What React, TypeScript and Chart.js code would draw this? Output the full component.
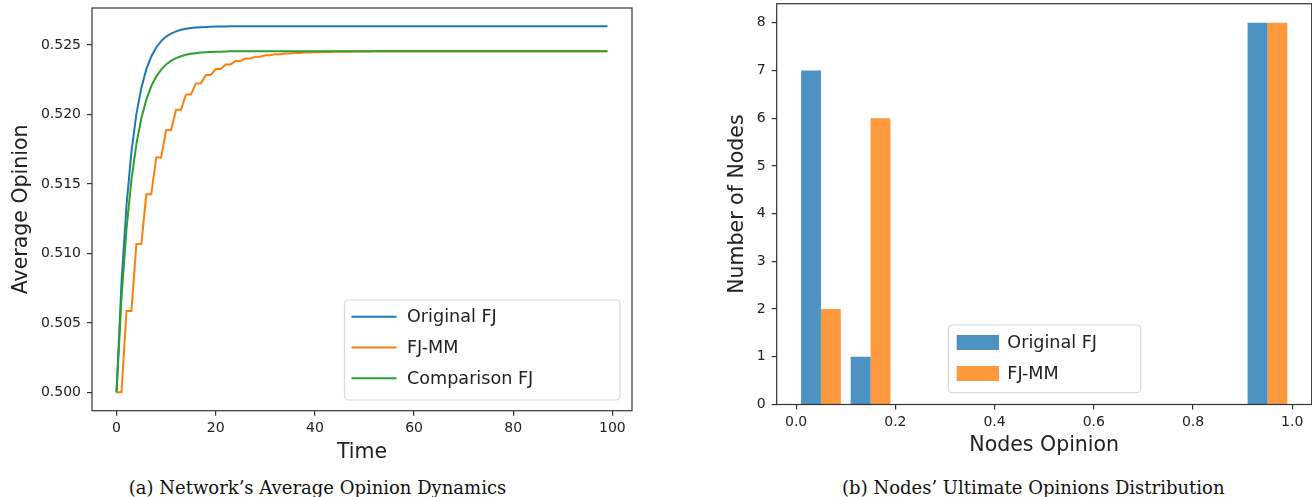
import React, { useEffect, useRef } from 'react';
import { Chart, registerables } from 'chart.js';

Chart.register(...registerables);

// ---------- Left chart data: average opinion over time (t = 0..99) ----------
const TIME_TICKS = [0, 20, 40, 60, 80, 100];
const AVG_TICKS = [0.5, 0.505, 0.51, 0.515, 0.52, 0.525];

const ORIGINAL_FJ = [
  0.50000, 0.50790, 0.51343, 0.51731, 0.52002, 0.52191, 0.52324, 0.52417, 0.52482, 0.52528,
  0.52560, 0.52582, 0.52598, 0.52609, 0.52616, 0.52622, 0.52625, 0.52628, 0.52630, 0.52631,
  0.52632, 0.52633, 0.52633, 0.52634, 0.52634, 0.52634, 0.52634, 0.52634, 0.52634, 0.52634,
  0.52634, 0.52634, 0.52634, 0.52634, 0.52634, 0.52634, 0.52634, 0.52634, 0.52634, 0.52634,
  0.52634, 0.52634, 0.52634, 0.52634, 0.52634, 0.52634, 0.52634, 0.52634, 0.52634, 0.52634,
  0.52634, 0.52634, 0.52634, 0.52634, 0.52634, 0.52634, 0.52634, 0.52634, 0.52634, 0.52634,
  0.52634, 0.52634, 0.52634, 0.52634, 0.52634, 0.52634, 0.52634, 0.52634, 0.52634, 0.52634,
  0.52634, 0.52634, 0.52634, 0.52634, 0.52634, 0.52634, 0.52634, 0.52634, 0.52634, 0.52634,
  0.52634, 0.52634, 0.52634, 0.52634, 0.52634, 0.52634, 0.52634, 0.52634, 0.52634, 0.52634,
  0.52634, 0.52634, 0.52634, 0.52634, 0.52634, 0.52634, 0.52634, 0.52634, 0.52634, 0.52634,
];

const FJ_MM = [
  0.50000, 0.50000, 0.50585, 0.50585, 0.51067, 0.51067, 0.51425, 0.51425, 0.51691, 0.51691,
  0.51888, 0.51888, 0.52034, 0.52034, 0.52143, 0.52143, 0.52223, 0.52223, 0.52283, 0.52283,
  0.52327, 0.52327, 0.52360, 0.52360, 0.52385, 0.52385, 0.52403, 0.52403, 0.52416, 0.52416,
  0.52426, 0.52426, 0.52434, 0.52434, 0.52439, 0.52439, 0.52443, 0.52443, 0.52446, 0.52446,
  0.52448, 0.52448, 0.52450, 0.52450, 0.52451, 0.52451, 0.52452, 0.52452, 0.52453, 0.52453,
  0.52453, 0.52453, 0.52454, 0.52454, 0.52454, 0.52454, 0.52454, 0.52454, 0.52454, 0.52454,
  0.52454, 0.52454, 0.52454, 0.52454, 0.52454, 0.52454, 0.52454, 0.52454, 0.52454, 0.52454,
  0.52454, 0.52454, 0.52454, 0.52454, 0.52454, 0.52454, 0.52454, 0.52454, 0.52454, 0.52454,
  0.52454, 0.52454, 0.52454, 0.52454, 0.52454, 0.52454, 0.52454, 0.52454, 0.52454, 0.52454,
  0.52454, 0.52454, 0.52454, 0.52454, 0.52454, 0.52454, 0.52454, 0.52454, 0.52454, 0.52454,
];

const COMPARISON_FJ = [
  0.50000, 0.50681, 0.51173, 0.51529, 0.51786, 0.51972, 0.52106, 0.52203, 0.52273, 0.52323,
  0.52360, 0.52386, 0.52405, 0.52419, 0.52429, 0.52436, 0.52441, 0.52445, 0.52448, 0.52450,
  0.52451, 0.52452, 0.52453, 0.52454, 0.52454, 0.52455, 0.52455, 0.52455, 0.52455, 0.52455,
  0.52455, 0.52455, 0.52455, 0.52455, 0.52455, 0.52455, 0.52455, 0.52455, 0.52455, 0.52455,
  0.52455, 0.52455, 0.52455, 0.52455, 0.52455, 0.52455, 0.52455, 0.52455, 0.52455, 0.52455,
  0.52455, 0.52455, 0.52455, 0.52455, 0.52455, 0.52455, 0.52455, 0.52455, 0.52455, 0.52455,
  0.52455, 0.52455, 0.52455, 0.52455, 0.52455, 0.52455, 0.52455, 0.52455, 0.52455, 0.52455,
  0.52455, 0.52455, 0.52455, 0.52455, 0.52455, 0.52455, 0.52455, 0.52455, 0.52455, 0.52455,
  0.52455, 0.52455, 0.52455, 0.52455, 0.52455, 0.52455, 0.52455, 0.52455, 0.52455, 0.52455,
  0.52455, 0.52455, 0.52455, 0.52455, 0.52455, 0.52455, 0.52455, 0.52455, 0.52455, 0.52455,
];

// ---------- Right chart data: histogram of final opinions ----------
const BIN_CENTERS = [0.05, 0.15, 0.25, 0.35, 0.45, 0.55, 0.65, 0.75, 0.85, 0.95];
const ORIGINAL_COUNTS = [7, 1, 0, 0, 0, 0, 0, 0, 0, 8];
const MM_COUNTS = [2, 6, 0, 0, 0, 0, 0, 0, 0, 8];
const OPINION_TICKS = [0, 0.2, 0.4, 0.6, 0.8, 1.0];
const COUNT_TICKS = [0, 1, 2, 3, 4, 5, 6, 7, 8];

// ---------- styles ----------
const TAB_BLUE = '#1f77b4';
const TAB_ORANGE = '#ff7f0e';
const TAB_GREEN = '#2ca02c';
const BAR_BLUE = 'rgba(31,119,180,0.8)';
const BAR_ORANGE = 'rgba(255,127,14,0.8)';
const SANS = 'DejaVu Sans';
const TEXT = '#222';
const SPINE = '#333';

const framePlugin = {
  id: 'frame',
  afterDatasetsDraw(chart: any, _args: any, opts: any) {
    const { ctx, chartArea: a } = chart;
    ctx.save();
    ctx.strokeStyle = opts.color || SPINE;
    ctx.lineWidth = opts.width || 1.2;
    ctx.strokeRect(a.left, a.top, a.right - a.left, a.bottom - a.top);
    ctx.restore();
  },
};

const boxLegendPlugin = {
  id: 'boxLegend',
  afterDraw(chart: any, _args: any, o: any) {
    if (!o || !o.display) return;
    const { ctx, chartArea: a } = chart;
    const left = o.fromRight != null ? a.right - o.fromRight - o.width : a.left + o.fromLeft;
    const top = a.bottom - o.fromBottom - o.height;
    ctx.save();
    ctx.beginPath();
    ctx.roundRect(left, top, o.width, o.height, 4);
    ctx.fillStyle = 'rgba(255,255,255,0.8)';
    ctx.fill();
    ctx.strokeStyle = '#d9d9d9';
    ctx.lineWidth = 1.2;
    ctx.stroke();
    ctx.font = `${o.fontSize}px "${SANS}"`;
    ctx.textBaseline = 'middle';
    ctx.textAlign = 'left';
    chart.data.datasets.forEach((ds: any, i: number) => {
      const cy = top + o.firstRow + i * o.rowStep;
      if (o.kind === 'line') {
        ctx.beginPath();
        ctx.strokeStyle = ds.borderColor;
        ctx.lineWidth = ds.borderWidth;
        ctx.moveTo(left + o.handleX, cy);
        ctx.lineTo(left + o.handleX + o.handleW, cy);
        ctx.stroke();
      } else {
        ctx.fillStyle = ds.backgroundColor;
        ctx.fillRect(left + o.handleX, cy - o.handleH / 2, o.handleW, o.handleH);
      }
      ctx.fillStyle = TEXT;
      ctx.fillText(ds.label, left + o.textX, cy + o.textDy);
    });
    ctx.restore();
  },
};

function fixedAxis(size: number, isX: boolean) {
  return (scale: any) => {
    if (isX) scale.height = size;
    else scale.width = size;
    scale.paddingTop = 0;
    scale.paddingBottom = 0;
    scale.paddingLeft = 0;
    scale.paddingRight = 0;
  };
}

function setTicks(values: number[]) {
  return (scale: any) => {
    scale.ticks = values.map((value) => ({ value }));
  };
}

const tickFont = { family: SANS, size: 14 };
const titleFont = { family: SANS, size: 20.5 };
const gridOpts = {
  display: true,
  drawOnChartArea: false,
  drawTicks: true,
  tickLength: 5,
  color: SPINE,
  tickColor: SPINE,
  lineWidth: 1.2,
  offset: false,
};

export default function App() {
  const leftRef = useRef<HTMLCanvasElement>(null);
  const rightRef = useRef<HTMLCanvasElement>(null);

  useEffect(() => {
    const lineDs = (label: string, values: number[], color: string, order: number) => ({
      label,
      data: values.map((y, t) => ({ x: t, y })),
      borderColor: color,
      backgroundColor: color,
      borderWidth: 2,
      pointRadius: 0,
      tension: 0,
      fill: false,
      order,
    });

    const left = new Chart(leftRef.current as HTMLCanvasElement, {
      type: 'line',
      data: {
        datasets: [
          lineDs('Original FJ', ORIGINAL_FJ, TAB_BLUE, 3),
          lineDs('FJ-MM', FJ_MM, TAB_ORANGE, 2),
          lineDs('Comparison FJ', COMPARISON_FJ, TAB_GREEN, 1),
        ],
      },
      options: {
        responsive: false,
        animation: false,
        events: [],
        layout: { padding: { left: 0, top: 8, right: 18, bottom: 0 }, autoPadding: false },
        plugins: {
          legend: { display: false },
          tooltip: { enabled: false },
          frame: { color: SPINE, width: 1.2 },
          boxLegend: {
            display: true, kind: 'line', fromRight: 12, fromBottom: 10.7, width: 275.5, height: 100,
            firstRow: 16.7, rowStep: 30.8, handleX: 7, handleW: 45, textX: 62.5, textDy: 1, fontSize: 17.6,
          },
        } as any,
        scales: {
          x: {
            type: 'linear', min: -4.95, max: 103.95, bounds: 'data',
            afterBuildTicks: setTicks(TIME_TICKS), afterFit: fixedAxis(59.3, true),
            ticks: { font: tickFont, color: TEXT, padding: 4, maxRotation: 0, autoSkip: false, callback: (v: any) => String(v) },
            grid: gridOpts, border: { display: false },
            title: { display: true, text: 'Time', font: titleFont, color: TEXT, padding: { top: 0, bottom: 5 } },
          },
          y: {
            type: 'linear', min: 0.49868, max: 0.52766, bounds: 'data',
            afterBuildTicks: setTicks(AVG_TICKS), afterFit: fixedAxis(92, false),
            ticks: { font: tickFont, color: TEXT, padding: 6, autoSkip: false, callback: (v: any) => Number(v).toFixed(3) },
            grid: gridOpts, border: { display: false },
            title: { display: true, text: 'Average Opinion', font: titleFont, color: TEXT, padding: { top: 9, bottom: 0 } },
          },
        } as any,
      },
      plugins: [framePlugin, boxLegendPlugin],
    });

    const right = new Chart(rightRef.current as HTMLCanvasElement, {
      type: 'bar',
      data: {
        datasets: [
          {
            label: 'Original FJ',
            data: BIN_CENTERS.map((x, i) => ({ x, y: ORIGINAL_COUNTS[i] })),
            backgroundColor: BAR_BLUE, borderWidth: 0, barPercentage: 1, categoryPercentage: 0.8,
          },
          {
            label: 'FJ-MM',
            data: BIN_CENTERS.map((x, i) => ({ x, y: MM_COUNTS[i] })),
            backgroundColor: BAR_ORANGE, borderWidth: 0, barPercentage: 1, categoryPercentage: 0.8,
          },
        ],
      },
      options: {
        responsive: false,
        animation: false,
        events: [],
        layout: { padding: { left: 0, top: 3.7, right: 0.3, bottom: 0 }, autoPadding: false },
        plugins: {
          legend: { display: false },
          tooltip: { enabled: false },
          frame: { color: SPINE, width: 1.2 },
          boxLegend: {
            display: true, kind: 'patch', fromLeft: 171.6, fromBottom: 11.8, width: 192.4, height: 67.7,
            firstRow: 17.5, rowStep: 31, handleX: 8.4, handleW: 42.3, handleH: 15, textX: 59, textDy: 1, fontSize: 17.6,
          },
        } as any,
        scales: {
          x: {
            type: 'linear', min: -0.0392, max: 1.0392, bounds: 'data', offset: false,
            afterBuildTicks: setTicks(OPINION_TICKS), afterFit: fixedAxis(65.5, true),
            ticks: { font: tickFont, color: TEXT, padding: 4, maxRotation: 0, autoSkip: false, callback: (v: any) => Number(v).toFixed(1) },
            grid: gridOpts, border: { display: false },
            title: { display: true, text: 'Nodes Opinion', font: titleFont, color: TEXT, padding: { top: 0, bottom: 12 } },
          },
          y: {
            type: 'linear', min: 0, max: 8.4, bounds: 'data',
            afterBuildTicks: setTicks(COUNT_TICKS), afterFit: fixedAxis(86.7, false),
            ticks: { font: tickFont, color: TEXT, padding: 6, autoSkip: false, callback: (v: any) => String(v) },
            grid: gridOpts, border: { display: false },
            title: { display: true, text: 'Number of Nodes', font: titleFont, color: TEXT, padding: { top: 35.6, bottom: 0 } },
          },
        } as any,
      },
      plugins: [framePlugin, boxLegendPlugin],
    });

    return () => {
      left.destroy();
      right.destroy();
    };
  }, []);

  const caption: React.CSSProperties = {
    position: 'absolute',
    width: 600,
    top: 479,
    textAlign: 'center',
    fontFamily: '"DejaVu Serif"',
    fontSize: 18,
    lineHeight: '18px',
    whiteSpace: 'nowrap',
    color: '#111',
  };

  return (
    <div style={{ position: 'absolute', left: 0, top: 0, width: 1312, height: 497, background: '#fff', overflow: 'hidden' }}>
      <canvas ref={leftRef} width={650} height={470} style={{ position: 'absolute', left: 0, top: 0, width: 650, height: 470 }} />
      <canvas ref={rightRef} width={622} height={470} style={{ position: 'absolute', left: 690, top: 0, width: 622, height: 470 }} />
      <div style={{ ...caption, left: 317.5 - 300 }}>(a) Network’s Average Opinion Dynamics</div>
      <div style={{ ...caption, left: 1033.3 - 300 }}>(b) Nodes’ Ultimate Opinions Distribution</div>
    </div>
  );
}
